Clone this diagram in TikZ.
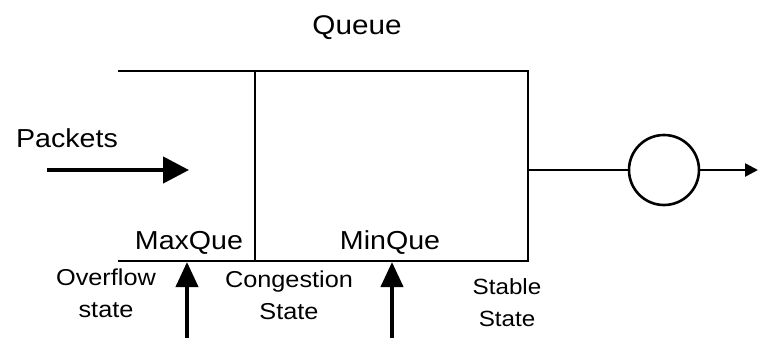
\documentclass[tikz,border=0pt]{standalone}
\usepackage{fontspec}
\setmainfont[FakeStretch=1.1]{Liberation Sans}
\usetikzlibrary{arrows.meta}
\begin{document}
\begin{tikzpicture}[x=1pt,y=-1pt,
  wall/.style={line width=2.6pt},
  thickarrow/.style={line width=4.5pt,-{Triangle[length=26pt,width=26pt]}},
  uparrow/.style={line width=4pt,-{Triangle[length=25pt,width=22pt]}},
  thinarrow/.style={line width=2.6pt,-{Triangle[length=13pt,width=13pt]}},
  lbl/.style={inner sep=0pt,anchor=base},
  statelbl/.style={inner sep=0pt,anchor=base,align=center,font=\fontsize{23}{32}\selectfont}]
\useasboundingbox (0,0) rectangle (758,338);
% queue outline
\coordinate (tl) at (118,71);
\coordinate (tr) at (528,71);
\coordinate (br) at (528,261);
\coordinate (bl) at (118,261);
\coordinate (dtop) at (255,71);
\coordinate (dbot) at (255,261);
\draw[wall] (tl) -- (tr) -- (br) -- (bl);
\draw[wall] (dtop) -- (dbot);
% server and output
\node[draw,circle,line width=2.6pt,minimum size=70pt,inner sep=0pt] (server) at (664,170) {};
\coordinate (outstart) at (528,170);
\coordinate (outend) at (758,170);
\draw[wall] (outstart) -- (server.west);
\draw[thinarrow] (server.east) -- (outend);
% incoming packets
\coordinate (pin) at (47,170);
\coordinate (pout) at (189,170);
\draw[thickarrow] (pin) -- (pout);
% threshold arrows
\coordinate (maxlow) at (187,338);
\coordinate (maxhigh) at (187,262);
\coordinate (minlow) at (392,338);
\coordinate (minhigh) at (392,262);
\draw[uparrow] (maxlow) -- (maxhigh);
\draw[uparrow] (minlow) -- (minhigh);
% labels
\node[lbl,font=\fontsize{27}{32}\selectfont] (title) at (357,34) {Queue};
\node[lbl,font=\fontsize{26}{32}\selectfont] (packets) at (67,147) {Packets};
\node[lbl,font=\fontsize{26}{32}\selectfont] (maxque) at (189,249) {MaxQue};
\node[lbl,font=\fontsize{26}{32}\selectfont] (minque) at (390,249) {MinQue};
\node[statelbl] (overflow) at (106,317) {Overflow\\state};
\node[statelbl] (congestion) at (289,319) {Congestion\\State};
\node[statelbl,font=\fontsize{22}{32}\selectfont] (stable) at (507,326) {Stable\\State};
\end{tikzpicture}
\end{document}
